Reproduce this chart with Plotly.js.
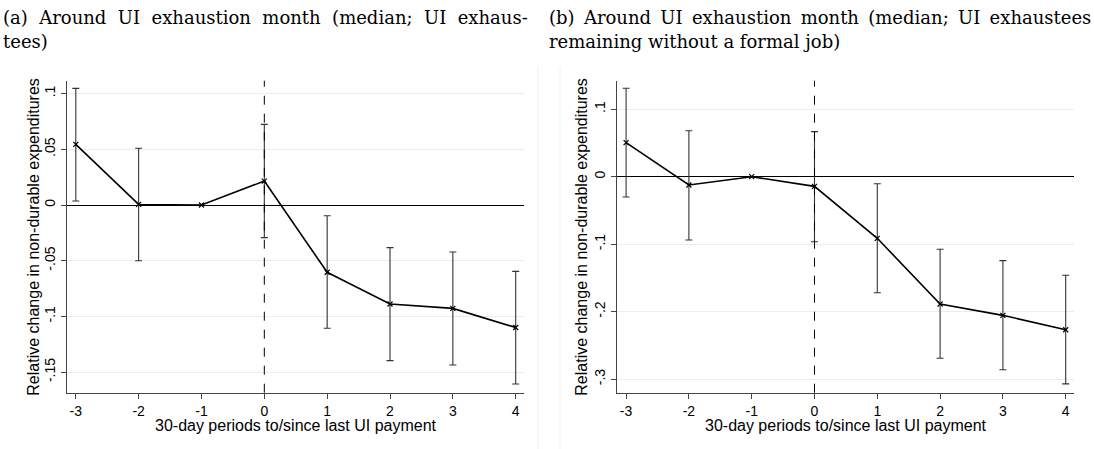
<!DOCTYPE html>
<html>
<head>
<meta charset="utf-8">
<script src="https://cdn.plot.ly/plotly-3.0.1.min.js"></script>
<style>html,body{margin:0;padding:0;background:#fff;}#chart{width:1094px;height:449px;}</style>
</head>
<body>
<div id="chart"></div>
<script>
// ---- data ----
const periods = [-3, -2, -1, 0, 1, 2, 3, 4];
const xTickVals = [-3, -2, -1, 0, 1, 2, 3, 4];
const xTickText = ['-3', '-2', '-1', '0', '1', '2', '3', '4'];

// Panel (a): UI exhaustees
const estA   = [0.0545, 0.0005, 0, 0.0215, -0.0604, -0.0889, -0.0928, -0.1100];
const upperA = [0.1047, 0.0510, null, 0.0724, -0.0096, -0.0383, -0.0422, -0.0596];
const lowerA = [0.0036, -0.0500, null, -0.0293, -0.1107, -0.1397, -0.1436, -0.1607];
const yTickValsA = [-0.15, -0.1, -0.05, 0, 0.05, 0.1];
const yTickTextA = ['-.15', '-.1', '-.05', '0', '.05', '.1'];

// Panel (b): UI exhaustees remaining without a formal job
const estB   = [0.0504, -0.0123, 0, -0.0143, -0.0913, -0.1886, -0.2054, -0.2267];
const upperB = [0.1310, 0.0680, null, 0.0667, -0.0104, -0.1076, -0.1244, -0.1460];
const lowerB = [-0.0300, -0.0938, null, -0.0963, -0.1720, -0.2690, -0.2860, -0.3070];
const yTickValsB = [-0.3, -0.2, -0.1, 0, 0.1];
const yTickTextB = ['-.3', '-.2', '-.1', '0', '.1'];

// panel titles, one entry per printed line (the source typesets them justified)
const titleA = ['(a) Around UI exhaustion month (median; UI exhaus-', 'tees)'];
const titleB = ['(b) Around UI exhaustion month (median; UI exhaustees', 'remaining without a formal job)'];
const xTitle = '30-day periods to/since last UI payment';
const yTitle = 'Relative change in non-durable expenditures';

// ---- helpers ----
const W = 1094, H = 449;
const px = v => v / W;
const py = v => 1 - v / H;
const plus = (u, e) => u.map((v, i) => v === null ? NaN : v - e[i]);
const minus = (l, e) => l.map((v, i) => v === null ? NaN : e[i] - v);
// widen inter-word gaps to imitate justified typesetting
const widen = (s, extra) => s.split(' ').join(' ' + extra);

function seriesTrace(est, up, lo, xa, ya) {
  return {
    x: periods, y: est, xaxis: xa, yaxis: ya, type: 'scatter', mode: 'lines+markers',
    line: {color: '#000', width: 1.6},
    marker: {symbol: 'x-thin', size: 5, color: '#000', line: {color: '#000', width: 1.2}},
    error_y: {type: 'data', symmetric: false, array: plus(up, est), arrayminus: minus(lo, est),
              color: '#333', thickness: 1.1, width: 3.5},
    showlegend: false, hoverinfo: 'x+y'
  };
}

const traces = [
  seriesTrace(estA, upperA, lowerA, 'x', 'y'),
  seriesTrace(estB, upperB, lowerB, 'x2', 'y2')
];

const tickFont = {family: 'Liberation Sans, Arial, sans-serif', size: 14, color: '#000'};
const axTitleFont = {family: 'Liberation Sans, Arial, sans-serif', size: 16, color: '#000'};
const titleFont = {family: 'DejaVu Serif, serif', size: 18, color: '#000'};
const gridColor = '#e6eff0';
const axisColor = '#444';

function xAxis(domain, anchor) {
  return {
    domain: domain, anchor: anchor, range: [-3.14, 4.137],
    tickmode: 'array', tickvals: xTickVals, ticktext: xTickText,
    ticks: 'outside', ticklen: 5, tickwidth: 1, tickcolor: axisColor,
    showline: true, linecolor: axisColor, linewidth: 1.3,
    showgrid: false, zeroline: false, tickfont: tickFont, fixedrange: true
  };
}
function yAxis(domain, anchor, range, vals, text) {
  return {
    domain: domain, anchor: anchor, range: range,
    tickmode: 'array', tickvals: vals, ticktext: text, tickangle: -90,
    ticks: 'outside', ticklen: 5, tickwidth: 1, tickcolor: axisColor,
    showline: true, linecolor: axisColor, linewidth: 1.3,
    showgrid: true, gridcolor: gridColor, gridwidth: 1,
    zeroline: true, zerolinecolor: '#000', zerolinewidth: 1,
    tickfont: tickFont, fixedrange: true
  };
}

const yDom = [py(392.7), py(80.7)];
const lineAnno = (text, x, y) => ({text: text, xref: 'paper', yref: 'paper', x: px(x), y: py(y),
  xanchor: 'left', yanchor: 'middle', align: 'left', showarrow: false, font: titleFont});

const layout = {
  width: W, height: H,
  margin: {l: 0, r: 0, t: 0, b: 0},
  paper_bgcolor: '#fff', plot_bgcolor: '#fff',
  xaxis: xAxis([px(67), px(524.3)], 'y'),
  yaxis: yAxis(yDom, 'x', [-0.1685, 0.1116], yTickValsA, yTickTextA),
  xaxis2: xAxis([px(617.3), px(1074.3)], 'y2'),
  yaxis2: yAxis(yDom, 'x2', [-0.32, 0.1422], yTickValsB, yTickTextB),
  shapes: [
    {type: 'line', xref: 'x', yref: 'y domain', x0: 0, x1: 0, y0: 0, y1: 1,
     line: {color: '#000', width: 1, dash: 'dash'}},
    {type: 'line', xref: 'x2', yref: 'y2 domain', x0: 0, x1: 0, y0: 0, y1: 1,
     line: {color: '#000', width: 1, dash: 'dash'}},
    {type: 'line', xref: 'paper', yref: 'paper', x0: px(538), x1: px(538), y0: 0, y1: py(67),
     line: {color: '#eef2f2', width: 1}},
    {type: 'line', xref: 'paper', yref: 'paper', x0: px(560), x1: px(560), y0: 0, y1: py(67),
     line: {color: '#eef2f2', width: 1}}
  ],
  annotations: [
    lineAnno(widen(titleA[0], '\u00a0'), 1, 18),
    lineAnno(titleA[1], 1, 41),
    lineAnno(widen(titleB[0], '\u2009'), 547, 18),
    lineAnno(titleB[1], 547, 41),
    {text: xTitle, xref: 'paper', yref: 'paper', x: px(295.7), y: py(425), xanchor: 'center', yanchor: 'middle',
     showarrow: false, font: axTitleFont},
    {text: xTitle, xref: 'paper', yref: 'paper', x: px(845.8), y: py(425), xanchor: 'center', yanchor: 'middle',
     showarrow: false, font: axTitleFont},
    {text: yTitle, xref: 'paper', yref: 'paper', x: px(34), y: py(236.7), xanchor: 'center', yanchor: 'middle',
     textangle: -90, showarrow: false, font: axTitleFont},
    {text: yTitle, xref: 'paper', yref: 'paper', x: px(582), y: py(236.7), xanchor: 'center', yanchor: 'middle',
     textangle: -90, showarrow: false, font: axTitleFont}
  ]
};

Plotly.newPlot('chart', traces, layout, {displayModeBar: false, staticPlot: true});
</script>
</body>
</html>
